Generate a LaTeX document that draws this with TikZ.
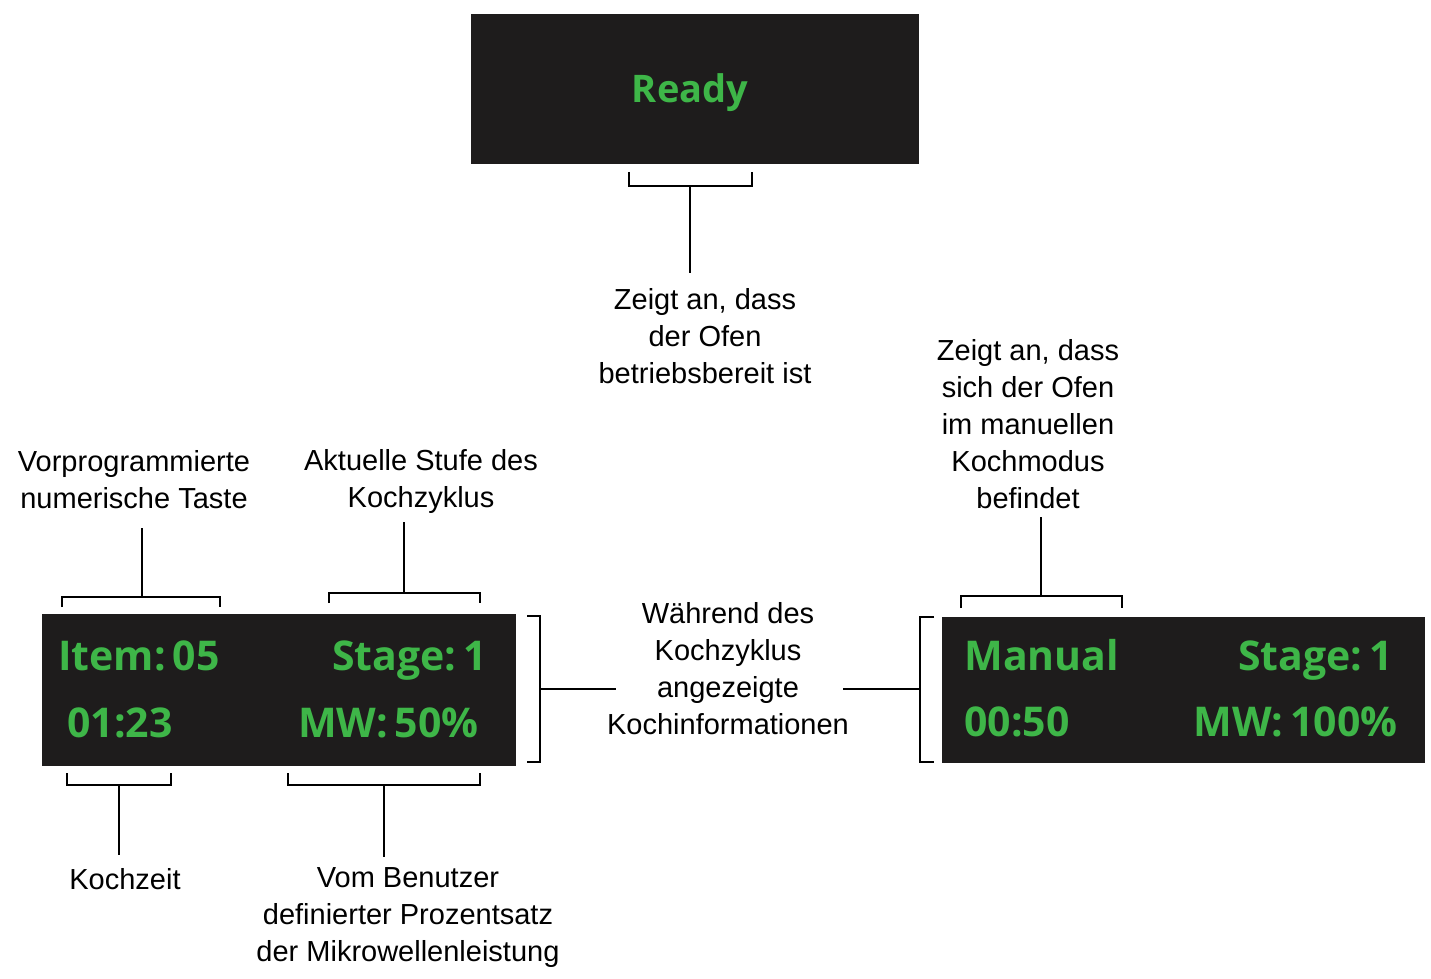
\documentclass[tikz,border=0pt]{standalone}
\usepackage{fontspec}
\setmainfont{Liberation Sans}
\newfontfamily\dispfont{Open Sans}
\definecolor{lcdgreen}{RGB}{62,182,72}
\definecolor{lcdback}{RGB}{30,28,28}
\tikzset{
  lcd/.style={fill=lcdback, draw=none},
  lcdtext/.style={text=lcdgreen, font=\dispfont\bfseries\fontsize{20.5}{24}\selectfont, inner sep=0pt},
  lbl/.style={align=center, font=\fontsize{14.5}{18.5}\selectfont, inner sep=0pt},
  brk/.style={line width=1pt}
}
\begin{document}
\begin{tikzpicture}[x=0.5pt,y=-0.5pt]
    \useasboundingbox (0,0) rectangle (1431,979);

    % displays
    \fill[lcd] (471,14) rectangle (919,164);
    \fill[lcd] (42,614) rectangle (516,766);
    \fill[lcd] (942,617) rectangle (1425,763);

    % ready display
    \node[lcdtext, anchor=base, font=\dispfont\bfseries\fontsize{19}{22}\selectfont] (ready) at (690,103) {Ready};

    % cooking display
    \node[lcdtext, anchor=base west] (item) at (58,670) {Item:\,05};
    \node[lcdtext, anchor=base east] (stageL) at (487,670) {Stage:\,1};
    \node[lcdtext, anchor=base west] (timeL) at (67,737) {01:23};
    \node[lcdtext, anchor=base east] (mwL) at (479,737) {MW:\,50\%};

    % manual display
    \node[lcdtext, anchor=base west] (manual) at (964,670) {Manual};
    \node[lcdtext, anchor=base east] (stageR) at (1393,670) {Stage:\,1};
    \node[lcdtext, anchor=base west] (timeR) at (964,736) {00:50};
    \node[lcdtext, anchor=base east] (mwR) at (1398,736) {MW:\,100\%};

    % labels
    \node[lbl] (readyinfo) at (705,336) {Zeigt an, dass\\der Ofen\\betriebsbereit ist};
    \node[lbl] (itemkey) at (134,480) {Vorprogrammierte\\numerische Taste};
    \node[lbl] (stageinfo) at (421,482) {Aktuelle Stufe des\\Kochzyklus};
    \node[lbl] (cooktime) at (125,879) {Kochzeit};
    \node[lbl] (power) at (408,918) {Vom Benutzer\\definierter Prozentsatz\\der Mikrowellenleistung};
    \node[lbl] (cookinfo) at (728,669) {Während des\\Kochzyklus\\angezeigte\\Kochinformationen};
    \node[lbl] (manualinfo) at (1028,424) {Zeigt an, dass\\sich der Ofen\\im manuellen\\Kochmodus\\befindet};

    % brackets
    \draw[brk] (629,172) -- (629,186) -- (752,186) -- (752,172);
    \coordinate (bReady) at (690,186);
    \draw[brk] (62,607) -- (62,597) -- (220,597) -- (220,607);
    \coordinate (bItem) at (142,597);
    \draw[brk] (329,603) -- (329,593) -- (480,593) -- (480,603);
    \coordinate (bStage) at (404,593);
    \draw[brk] (67,773) -- (67,785) -- (171,785) -- (171,773);
    \coordinate (bTime) at (119,785);
    \draw[brk] (288,773) -- (288,785) -- (480,785) -- (480,773);
    \coordinate (bPower) at (384,785);
    \draw[brk] (527,616) -- (540,616) -- (540,762) -- (527,762);
    \coordinate (bLeft) at (540,689);
    \draw[brk] (934,617) -- (920,617) -- (920,762) -- (934,762);
    \coordinate (bRight) at (920,689);
    \draw[brk] (961,608) -- (961,596) -- (1122,596) -- (1122,608);
    \coordinate (bManual) at (1041,596);

    % connectors
    \draw[brk] (bReady) -- (690,273);
    \draw[brk] (bItem) -- (142,528);
    \draw[brk] (bStage) -- (404,522);
    \draw[brk] (bTime) -- (119,855);
    \draw[brk] (bPower) -- (384,857);
    \draw[brk] (bLeft) -- (616,689);
    \draw[brk] (bRight) -- (843,689);
    \draw[brk] (bManual) -- (1041,517);
\end{tikzpicture}
\end{document}
